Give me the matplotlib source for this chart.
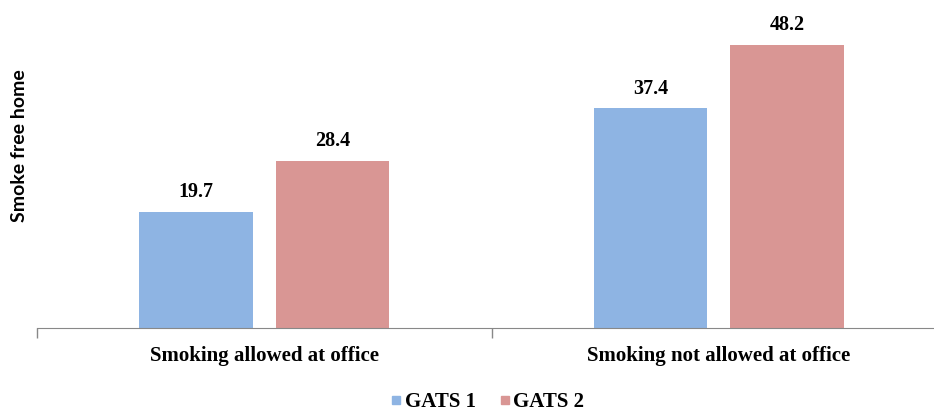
import numpy as np
import matplotlib.pyplot as plt
from matplotlib.lines import Line2D

categories = ['Smoking allowed at office', 'Smoking not allowed at office']
series = ['GATS 1', 'GATS 2']
gats1 = [19.7, 37.4]
gats2 = [28.4, 48.2]
colors = ['#8EB4E3', '#D99694']

serif = ['Liberation Serif', 'DejaVu Serif']

fig = plt.figure(figsize=(9.34, 4.12), dpi=100)
ax = fig.add_axes([37 / 934, 84 / 412, 909 / 934, 293.5 / 412])

x = np.arange(len(categories))
w = 0.25
off = 0.15
for vals, o, c in [(gats1, -off, colors[0]), (gats2, off, colors[1])]:
    bars = ax.bar(x + o, vals, width=w, color=c)
    for b, v in zip(bars, vals):
        ax.text(b.get_x() + b.get_width() / 2, v + 3.4, f'{v:.1f}',
                ha='center', va='center', fontsize=14.5, fontweight='bold',
                family=serif)

ax.set_xlim(-0.5, 1.5)
ax.set_ylim(0, 50)

ax.set_xticks(x)
ax.set_xticklabels(categories, fontsize=15, fontweight='bold', family=serif)
ax.tick_params(axis='x', which='major', length=0, pad=13)
ax.set_xticks([-0.5, 0.5, 1.5], minor=True)
ax.tick_params(axis='x', which='minor', length=7, color='#888888', width=1)
ax.set_yticks([])

for s in ['top', 'right', 'left']:
    ax.spines[s].set_visible(False)
ax.spines['bottom'].set_color('#888888')

fig.text(19.5 / 934, 1 - 146 / 412, 'Smoke free home', rotation=90,
         ha='center', va='center', fontsize=14, fontweight='bold',
         family=['Lato', 'DejaVu Sans'])

handles = [Line2D([], [], marker='s', linestyle='none', markersize=5.5,
                  markerfacecolor=c, markeredgecolor=c) for c in colors]
fig.legend(handles, series, loc='center', bbox_to_anchor=(485 / 934, 1 - 402 / 412),
           ncol=2, frameon=False, handletextpad=-0.1, columnspacing=0.9,
           handlelength=1.0, prop={'family': serif, 'weight': 'bold', 'size': 15})

fig.savefig('out.png', dpi=100)
